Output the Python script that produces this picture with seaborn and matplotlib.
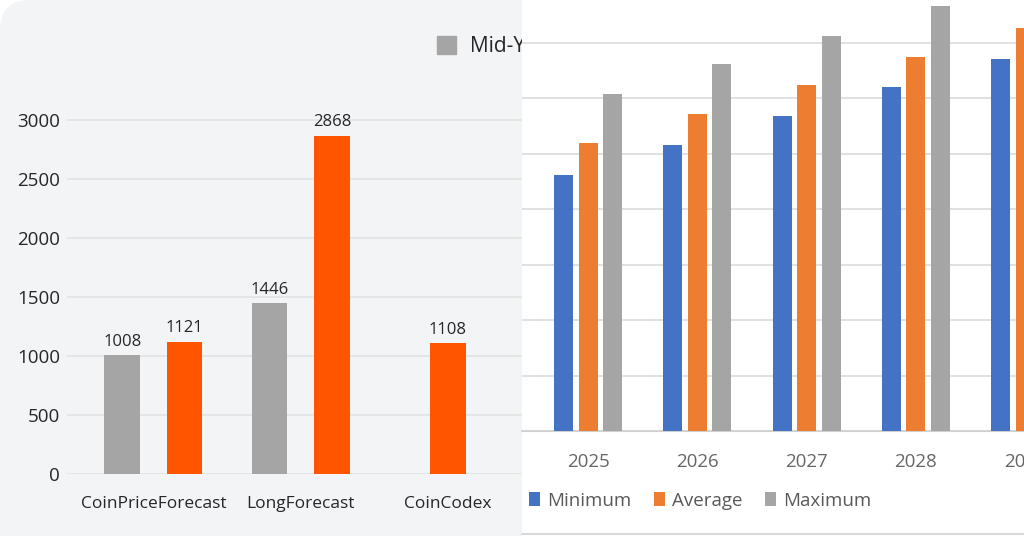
import numpy as np
import pandas as pd
import matplotlib
matplotlib.use("Agg")
import matplotlib.pyplot as plt
import seaborn as sns
from matplotlib.patches import FancyBboxPatch, Rectangle
from matplotlib.lines import Line2D
from matplotlib.transforms import IdentityTransform

# left chart: price forecasts by source
sources     = ["CoinPriceForecast", "LongForecast", "CoinCodex"]
mid_year    = [1008, 1446, np.nan]
end_year    = [1121, 2868, 1108]
left_series = ["Mid-Year", "End-Year"]
left_yticks = [0, 500, 1000, 1500, 2000, 2500, 3000]

# right chart: yearly min / avg / max (no axis values shown, grid units)
years        = ["2025", "2026", "2027", "2028", "2029"]
minimum      = [4.62, 5.15, 5.67, 6.19, 6.71]
average      = [5.19, 5.72, 6.23, 6.74, 7.27]
maximum      = [6.08, 6.61, 7.12, 7.65, 8.18]
right_series = ["Minimum", "Average", "Maximum"]

GRAY_L, ORANGE_L = "#a5a5a5", "#ff5500"
BLUE_R, ORANGE_R, GRAY_R = "#4472c4", "#ed7d31", "#a5a5a5"
W, H = 1024, 536


def box(x0, y0, x1, y1):
    # pixel box (top-left origin) -> figure fraction rect
    return [x0 / W, 1 - y1 / H, (x1 - x0) / W, (y1 - y0) / H]


sns.set_theme(style="white")
plt.rcParams["font.family"] = ["Open Sans", "DejaVu Sans"]

fig = plt.figure(figsize=(W / 100, H / 100), dpi=100, facecolor="white")

# light gray card behind the left chart, rounded top-left corner
fig.add_artist(FancyBboxPatch((0, -40), 580, 576, boxstyle="round,pad=0,rounding_size=30",
                              transform=IdentityTransform(), facecolor="#f3f4f6",
                              edgecolor="none", zorder=-1))

# ── left chart ───────────────────────────────────────────────
axl = fig.add_axes(box(66.7, 90.5, 522, 474), zorder=0)
axl.set_facecolor("none")

left = pd.DataFrame({"source": sources, "Mid-Year": mid_year, "End-Year": end_year})
left_long = left.melt(id_vars="source", var_name="series", value_name="value").dropna()
n_per_src = left_long.groupby("source")["value"].transform("size")
paired = left_long[n_per_src == 2]
single = left_long[n_per_src == 1]

sns.barplot(data=paired, x="source", y="value", hue="series", order=sources,
            hue_order=left_series, palette=[GRAY_L, ORANGE_L], saturation=1,
            width=0.848, gap=0.428, linewidth=0, legend=False, ax=axl)
sns.barplot(data=single, x="source", y="value", order=sources, color=ORANGE_L,
            saturation=1, width=0.2425, linewidth=0, ax=axl)

for cont in axl.containers:
    axl.bar_label(cont, fmt="{:.0f}", padding=4, fontsize=12, color="#262626")

axl.set_xlim(-0.589, 2.504)
axl.set_ylim(0, 3250)
axl.set_yticks(left_yticks)
axl.yaxis.grid(True, color="#e2e2e2", lw=1.2)
axl.set_axisbelow(True)
axl.set_xlabel(""); axl.set_ylabel("")
axl.tick_params(axis="y", length=0, pad=4.8, labelsize=13.5, labelcolor="#262626")
axl.tick_params(axis="x", length=0, pad=16, labelsize=12.5, labelcolor="#262626")
sns.despine(ax=axl, left=True, bottom=True)

handles = [Rectangle((0, 0), 1, 1, color=GRAY_L), Rectangle((0, 0), 1, 1, color=ORANGE_L)]
axl.legend(handles, left_series, loc="center left", bbox_to_anchor=(436.5 / W, 1 - 46.4 / H),
           bbox_transform=fig.transFigure, ncol=2, frameon=False, fontsize=15,
           handlelength=0.93, handleheight=0.93, handletextpad=0.7,
           borderpad=0, borderaxespad=0, labelcolor="#262626")

# white panel of the second screenshot
fig.add_artist(Rectangle((522 / W, 0), 1 - 522 / W, 1, transform=fig.transFigure,
                         facecolor="white", edgecolor="none", zorder=0.5))
fig.add_artist(Line2D([522 / W, 1], [1 - 534 / H] * 2, transform=fig.transFigure,
                      color="#d9d9d9", lw=1.5, zorder=0.6))

# ── right chart ──────────────────────────────────────────────
axr = fig.add_axes(box(522, 0, 1144, 431), zorder=1)
axr.set_facecolor("white")

right = pd.DataFrame({"year": years, "Minimum": minimum, "Average": average, "Maximum": maximum})
right_long = right.melt(id_vars="year", var_name="series", value_name="value")

sns.barplot(data=right_long, x="year", y="value", hue="series", order=years,
            hue_order=right_series, palette=[BLUE_R, ORANGE_R, GRAY_R], saturation=1,
            width=0.6725, gap=0.224, linewidth=0, ax=axr)

axr.set_xlim(-0.604, 5.087)
axr.set_ylim(0, 7.766)
axr.set_yticks(range(0, 8))
axr.set_yticklabels([])
axr.yaxis.grid(True, color="#d9d9d9", lw=1.1)
axr.axhline(0, color="#d0d0d0", lw=1.5, clip_on=False, zorder=0.5)
axr.set_axisbelow(True)
axr.set_xlabel(""); axr.set_ylabel("")
axr.tick_params(axis="y", length=0)
axr.tick_params(axis="x", length=0, pad=15.5, labelsize=13.5, labelcolor="#666666")
sns.despine(ax=axr, left=True, bottom=True)

h, l = axr.get_legend_handles_labels()
axr.legend(h, l, loc="center left", bbox_to_anchor=(529 / W, 1 - 500.5 / H),
           bbox_transform=fig.transFigure, ncol=3, frameon=False, fontsize=13.5,
           handlelength=0.6, handleheight=0.7, handletextpad=0.36, columnspacing=1.2,
           borderpad=0, borderaxespad=0, labelcolor="#595959")

fig.savefig("out.png", dpi=100, facecolor=fig.get_facecolor())
